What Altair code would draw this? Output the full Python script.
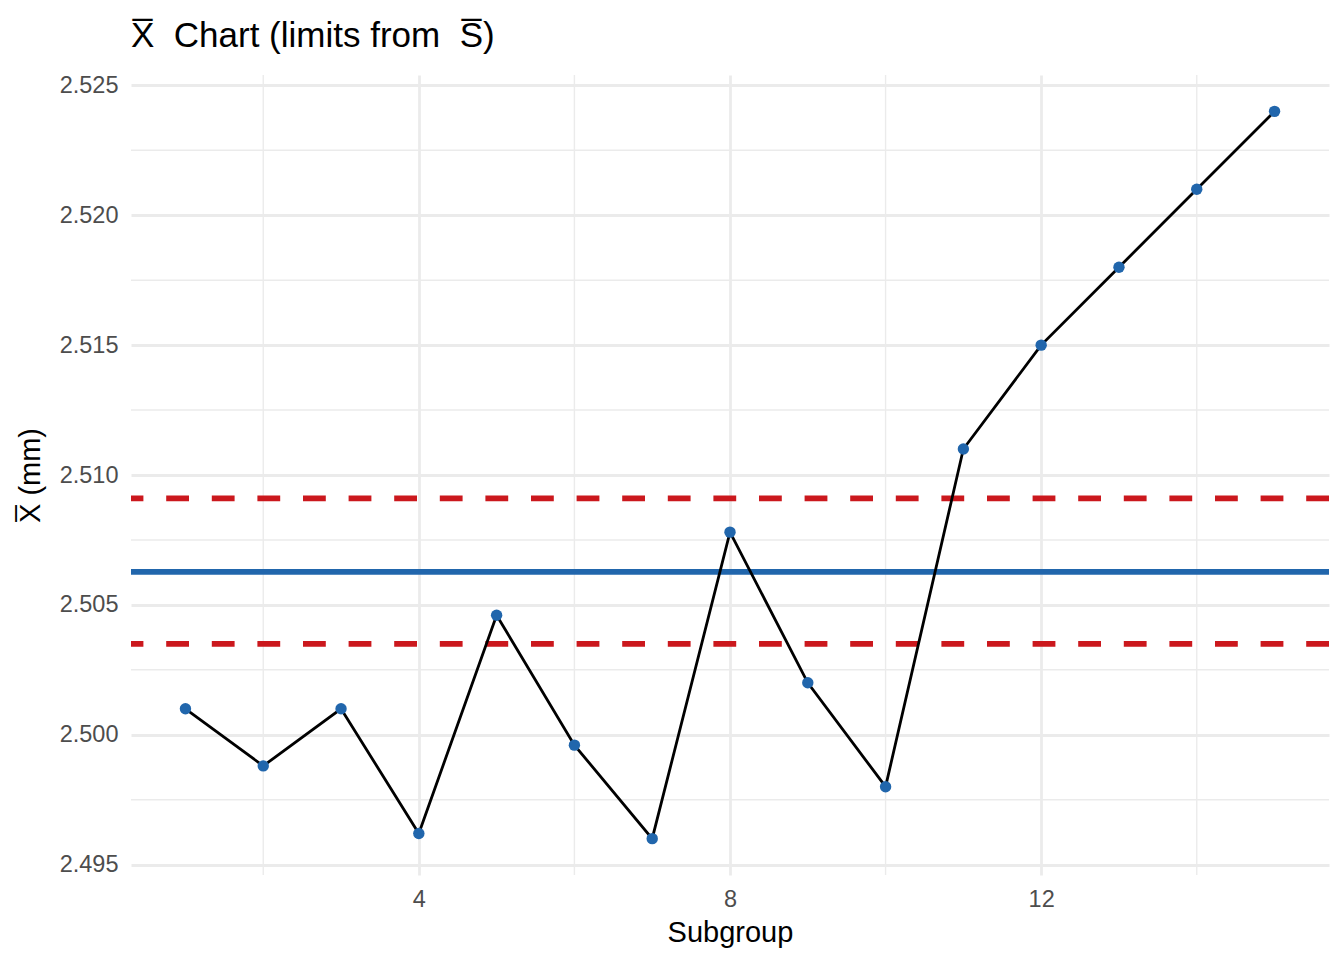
import altair as alt
import pandas as pd

# ---- data ----
subgroup = list(range(1, 16))
xbar = [2.5010, 2.4988, 2.5010, 2.4962, 2.5046, 2.4996, 2.4960, 2.5078,
        2.5020, 2.4980, 2.5110, 2.5150, 2.5180, 2.5210, 2.5240]
center_line = [2.50627]
limit_lines = [2.5035, 2.5091]
x_major = [4, 8, 12]
x_minor = [2, 6, 10, 14]
y_major = [2.495, 2.500, 2.505, 2.510, 2.515, 2.520, 2.525]
y_minor = [2.4975, 2.5025, 2.5075, 2.5125, 2.5175, 2.5225]

FONT = "Liberation Sans"
BLUE = "#2166AC"
RED = "#CB181D"
GRID = "#EBEBEB"

pts = pd.DataFrame({"Subgroup": subgroup, "xbar": xbar})
cl = pd.DataFrame({"y": center_line})
lim = pd.DataFrame({"y": limit_lines})
xmin = pd.DataFrame({"x": x_minor})
ymin = pd.DataFrame({"y": y_minor})

xscale = alt.Scale(domain=[0.3, 15.7], nice=False, zero=False)
yscale = alt.Scale(domain=[2.4946, 2.5254], nice=False, zero=False)

xaxis = alt.Axis(values=x_major, grid=True, gridColor=GRID, gridWidth=2.8,
                 ticks=False, domain=False, labelPadding=12, titlePadding=8,
                 format="d")
yaxis = alt.Axis(values=y_major, grid=True, gridColor=GRID, gridWidth=2.8,
                 ticks=False, domain=False, labelPadding=13, titlePadding=14,
                 format=".3f")
XT = "Subgroup"
YT = "X\u0305 (mm)"

minor_v = alt.Chart(xmin).mark_rule(color=GRID, strokeWidth=1.4).encode(
    x=alt.X("x:Q", scale=xscale, axis=xaxis, title=XT))
minor_h = alt.Chart(ymin).mark_rule(color=GRID, strokeWidth=1.4).encode(
    y=alt.Y("y:Q", scale=yscale, axis=yaxis, title=YT))

center = alt.Chart(cl).mark_rule(color=BLUE, strokeWidth=5.7).encode(
    y=alt.Y("y:Q", scale=yscale, axis=yaxis, title=YT))
limits = alt.Chart(lim).mark_rule(color=RED, strokeWidth=5.7, strokeDash=[22.8, 22.8]).encode(
    y=alt.Y("y:Q", scale=yscale, axis=yaxis, title=YT))

line = alt.Chart(pts).mark_line(color="black", strokeWidth=2.8).encode(
    x=alt.X("Subgroup:Q", scale=xscale, axis=xaxis, title=XT),
    y=alt.Y("xbar:Q", scale=yscale, axis=yaxis, title=YT),
)
points = alt.Chart(pts).mark_circle(color=BLUE, size=130, opacity=1).encode(
    x=alt.X("Subgroup:Q", scale=xscale, axis=xaxis, title=XT),
    y=alt.Y("xbar:Q", scale=yscale, axis=yaxis, title=YT),
)

chart = alt.layer(minor_v, minor_h, center, limits, line, points).properties(
    width=1198,
    height=800,
    autosize=alt.AutoSizeParams(type="none"),
    padding={"left": 123, "top": 67, "right": 7, "bottom": 77},
    title=alt.Title("X\u0305\u00a0\u00a0Chart (limits from\u00a0\u00a0S\u0305)",
                    anchor="start", frame="group", offset=19,
                    fontSize=35, font=FONT, fontWeight="normal", color="black"),
).configure_view(stroke=None).configure_axis(
    labelFont=FONT, labelFontSize=23.5, labelColor="#4D4D4D",
    titleFont=FONT, titleFontSize=29, titleColor="black", titleFontWeight="normal",
)

chart.save("out.html", embed_options={"renderer": "svg", "actions": False})
